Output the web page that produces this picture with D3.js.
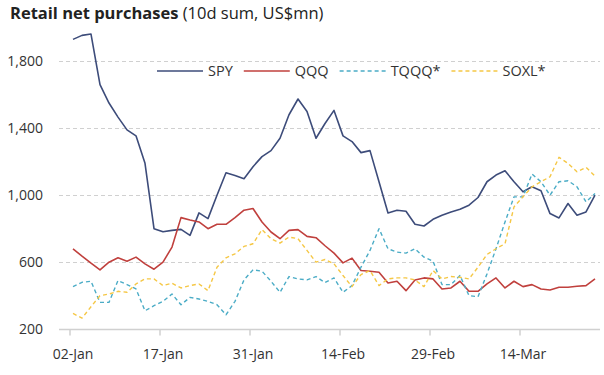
<!DOCTYPE html>
<html>
<head>
<meta charset="utf-8">
<script src="https://cdn.jsdelivr.net/npm/d3@7"></script>
<style>
  body { margin: 0; background: #fff; }
  svg { font-family: "Open Sans", "Lato", sans-serif; }
</style>
</head>
<body>
<div id="chart"></div>
<script>
// trading days, 02-Jan to 26-Mar
var dates = ["02-Jan","03-Jan","04-Jan","05-Jan","08-Jan","09-Jan","10-Jan","11-Jan","12-Jan","16-Jan",
  "17-Jan","18-Jan","19-Jan","22-Jan","23-Jan","24-Jan","25-Jan","26-Jan","29-Jan","30-Jan",
  "31-Jan","01-Feb","02-Feb","05-Feb","06-Feb","07-Feb","08-Feb","09-Feb","12-Feb","13-Feb",
  "14-Feb","15-Feb","16-Feb","20-Feb","21-Feb","22-Feb","23-Feb","26-Feb","27-Feb","28-Feb",
  "29-Feb","01-Mar","04-Mar","05-Mar","06-Mar","07-Mar","08-Mar","11-Mar","12-Mar","13-Mar",
  "14-Mar","15-Mar","18-Mar","19-Mar","20-Mar","21-Mar","22-Mar","25-Mar","26-Mar"];

var tickLabels = ["02-Jan","17-Jan","31-Jan","14-Feb","29-Feb","14-Mar"];
var yTicks = [200, 600, 1000, 1400, 1800];

var spy = [1932,1956,1964,1662,1552,1468,1392,1356,1192,802,
  784,792,798,762,896,862,1002,1136,1120,1100,
  1172,1232,1268,1342,1482,1576,1502,1342,1430,1508,
  1356,1322,1256,1268,1082,896,912,906,828,818,
  858,882,902,918,942,988,1082,1122,1148,1082,
  1022,1052,1028,892,866,952,882,902,1002];

var qqq = [682,638,596,556,602,628,608,632,592,560,
  602,692,868,854,842,802,828,828,868,912,
  922,842,782,742,792,796,756,748,700,656,
  598,626,552,548,542,478,488,432,496,508,
  502,442,448,488,428,428,472,508,448,488,
  456,468,442,436,452,452,458,462,502];

var tqqq = [456,482,488,362,362,492,468,442,312,342,
  368,412,348,392,382,368,348,288,368,496,
  556,548,488,422,516,502,496,516,480,508,
  422,462,572,672,802,682,662,656,682,632,
  608,468,468,522,402,396,532,682,842,992,
  992,1128,1082,1002,1082,1088,1052,962,1012];

var soxl = [296,268,336,402,412,428,422,472,502,502,
  462,476,448,462,472,432,572,628,652,696,
  712,796,742,716,752,742,672,602,618,592,
  522,456,528,552,462,502,508,508,496,456,
  552,502,516,512,502,572,648,682,712,932,
  992,1052,1082,1112,1228,1192,1142,1168,1116];

var seriesNames = ["SPY", "QQQ", "TQQQ*", "SOXL*"];
var seriesData = [spy, qqq, tqqq, soxl];
var colors = ["#3d4c7a", "#c0403d", "#4bacc6", "#f5c745"];
var dashes = [null, null, "4,3", "4,3"];

var width = 604, height = 375;

var svg = d3.select("#chart").append("svg")
  .attr("width", width)
  .attr("height", height);

var x = d3.scaleLinear().domain([0, dates.length - 1]).range([73, 595]);
var y = d3.scaleLinear().domain([200, 1800]).range([329.5, 61.5]);

// title
var title = svg.append("text").attr("x", 10).attr("y", 19)
  .attr("font-size", 16.5).attr("fill", "#222");
title.append("tspan").attr("font-weight", "bold").text("Retail net purchases");
title.append("tspan").text(" (10d sum, US$mn)");

// gridlines
svg.append("g").selectAll("line")
  .data(yTicks.slice(1))
  .join("line")
  .attr("x1", 59).attr("x2", 600)
  .attr("y1", d => y(d)).attr("y2", d => y(d))
  .attr("stroke", "#d0d0d0")
  .attr("stroke-dasharray", "4,3");

// y axis labels
var yAxis = svg.append("g").attr("transform", "translate(50,0)")
  .call(d3.axisLeft(y).tickValues(yTicks).tickSize(0).tickPadding(7).tickFormat(d3.format(",")));
yAxis.select(".domain").remove();
yAxis.selectAll("text").attr("font-size", 14).attr("fill", "#333")
  .attr("font-family", "'Open Sans', Lato, sans-serif");

// x axis
var tickIdx = tickLabels.map(t => dates.indexOf(t));
svg.append("line")
  .attr("x1", 59).attr("x2", 600)
  .attr("y1", y(200)).attr("y2", y(200))
  .attr("stroke", "#d0d0d0").attr("stroke-width", 1.5);

var xAxis = svg.append("g").attr("transform", "translate(0," + y(200) + ")");
xAxis.selectAll("line")
  .data(tickIdx)
  .join("line")
  .attr("x1", d => x(d) - 3).attr("x2", d => x(d) - 3)
  .attr("y1", 0).attr("y2", 6)
  .attr("stroke", "#d0d0d0").attr("stroke-width", 1.5);
xAxis.selectAll("text")
  .data(tickIdx)
  .join("text")
  .attr("x", d => x(d)).attr("y", 29)
  .attr("text-anchor", "middle")
  .attr("font-size", 14).attr("fill", "#333")
  .text(d => dates[d]);

// lines
var line = d3.line()
  .x((d, i) => x(i))
  .y(d => y(d));

svg.append("g").selectAll("path")
  .data(seriesData)
  .join("path")
  .attr("d", line)
  .attr("fill", "none")
  .attr("stroke", (d, i) => colors[i])
  .attr("stroke-width", (d, i) => i < 2 ? 1.6 : 1.4)
  .attr("stroke-dasharray", (d, i) => dashes[i])
  .attr("stroke-linejoin", "round");

// legend
var legend = svg.append("g").attr("transform", "translate(157,71)");
var lx = 0;
seriesNames.forEach(function (name, i) {
  legend.append("line")
    .attr("x1", lx).attr("x2", lx + 46)
    .attr("y1", 0).attr("y2", 0)
    .attr("stroke", colors[i])
    .attr("stroke-width", i < 2 ? 1.6 : 1.4)
    .attr("stroke-dasharray", dashes[i]);
  var t = legend.append("text")
    .attr("x", lx + 51).attr("y", 5)
    .attr("font-size", 14.5).attr("fill", "#333")
    .text(name);
  lx += 51 + t.node().getComputedTextLength() + 11;
});
</script>
</body>
</html>
